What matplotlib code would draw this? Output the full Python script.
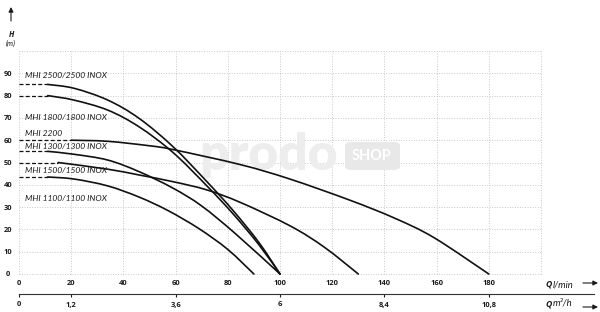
import matplotlib
matplotlib.use('Agg')
import matplotlib.pyplot as plt
import numpy as np
from matplotlib.lines import Line2D
from matplotlib.patches import FancyArrowPatch, FancyBboxPatch, PathPatch
from matplotlib.path import Path

# ---------------- data ----------------
curve_names = ["MHI 2500/2500 INOX", "MHI 1800/1800 INOX", "MHI 2200",
               "MHI 1300/1300 INOX", "MHI 1500/1500 INOX", "MHI 1100/1100 INOX"]

q_2500 = [0, 11, 21, 34, 46, 59, 72, 82, 92, 100]
h_2500 = [85, 85, 83.3, 78, 69.8, 57.1, 41.4, 28.5, 14, 0]

q_1800 = [0, 11, 21, 34, 46, 59, 72, 82, 92, 100]
h_1800 = [80, 80, 78, 73.5, 66, 54.5, 39.5, 27, 13, 0]

q_2200 = [0, 20, 34, 50, 59, 85, 104, 127, 144, 159, 180]
h_2200 = [60, 60, 59.5, 57.5, 55.8, 49, 42.5, 33, 25, 16.3, 0]

q_1300 = [0, 11, 21, 34, 46, 59, 70, 83, 100]
h_1300 = [55, 55, 53.7, 51.1, 45.9, 38.5, 30.5, 18, 0]

q_1500 = [0, 15, 34, 46, 59, 72, 85, 104, 117, 130]
h_1500 = [50, 50, 47, 44.4, 41.4, 37.7, 32, 21.5, 12, 0]

q_1100 = [0, 11, 21, 34, 46, 57, 69, 80, 90]
h_1100 = [43.5, 43.5, 42.6, 39.5, 34.5, 28.5, 20.3, 11, 0]

curves_q = [q_2500, q_1800, q_2200, q_1300, q_1500, q_1100]
curves_h = [h_2500, h_1800, h_2200, h_1300, h_1500, h_1100]

x_ticks = [0, 20, 40, 60, 80, 100, 120, 140, 160, 180, 200]
x_labels = ["0", "20", "40", "60", "80", "100", "120", "140", "160", "180", ""]
y_ticks = [0, 10, 20, 30, 40, 50, 60, 70, 80, 90, 100]
y_labels = ["0", "10", "20", "30", "40", "50", "60", "70", "80", "90", ""]
m3_ticks = [0, 1.2, 3.6, 6, 8.4, 10.8]
m3_labels = ["0", "1,2", "3,6", "6", "8,4", "10,8"]

# label placement (layout)
label_y = [88.8, 70, 63.2, 57, 46.2, 34]
label_x = 2.3

# ---------------- figure ----------------
W, Hh = 600, 312
fig = plt.figure(figsize=(6, 3.12), dpi=100)
fig.patch.set_facecolor('white')

def fx(px):
    return px / W

def fy(py):
    return 1 - py / Hh

ax = fig.add_axes([fx(19), fy(274), (541 - 19) / W, (274 - 51) / Hh])
ax.set_xlim(0, 200)
ax.set_ylim(0, 100)
for s in ax.spines.values():
    s.set_visible(False)

tick_font = dict(family='Open Sans', weight='bold', size=5.4)
ax.set_xticks(x_ticks)
ax.set_xticklabels(x_labels, **tick_font)
ax.set_yticks(y_ticks)
ax.set_yticklabels(y_labels, **tick_font)
ax.tick_params(axis='x', length=0, pad=4.6, colors='#1a1a1a')
ax.tick_params(axis='y', length=0, pad=7.9, colors='#1a1a1a')
for lab in ax.get_yticklabels():
    lab.set_horizontalalignment('center')

ax.grid(True, color='#c8c8c8', linestyle=(0, (1, 1.6)), linewidth=0.7)
ax.set_axisbelow(True)
for gl in ax.get_xgridlines() + ax.get_ygridlines():
    gl.set_clip_on(False)

# watermark
ax.text(fx(199), fy(170), "prodo", transform=fig.transFigure, family='Lato',
        weight='heavy', size=37, color='#ededed', ha='left', va='baseline', zorder=1.5)
box = FancyBboxPatch((fx(345), fy(170)), fx(400) - fx(345), fy(142) - fy(170),
                     boxstyle='round,pad=0,rounding_size=0.012', transform=fig.transFigure,
                     facecolor='#e8e8e8', edgecolor='none', zorder=1.5)
ax.add_artist(box)
ax.text(fx(372), fy(156), "SHOP", transform=fig.transFigure, family='Lato',
        weight='bold', size=10.5, color='white', ha='center', va='center', zorder=1.6)


def smooth_path(qs, hs):
    pts = np.column_stack([qs, hs]).astype(float)
    n = len(pts)
    verts = [pts[0]]
    codes = [Path.MOVETO]
    for i in range(n - 1):
        p0 = pts[i - 1] if i > 0 else pts[i]
        p1 = pts[i]
        p2 = pts[i + 1]
        p3 = pts[i + 2] if i + 2 < n else pts[i + 1]
        c1 = p1 + (p2 - p0) / 6.0
        c2 = p2 - (p3 - p1) / 6.0
        verts += [c1, c2, p2]
        codes += [Path.CURVE4] * 3
    return Path(verts, codes)


# curves
for qs, hs in zip(curves_q, curves_h):
    ax.plot(qs[:2], hs[:2], color='#111111', lw=0.9, linestyle=(0, (3.2, 1.8)),
            zorder=3, clip_on=False)
    patch = PathPatch(smooth_path(qs[1:], hs[1:]), fill=False, edgecolor='#111111',
                      lw=1.2, zorder=3, capstyle='round', joinstyle='round',
                      clip_on=False)
    ax.add_patch(patch)

for name, ly in zip(curve_names, label_y):
    ax.text(label_x, ly, name, family='Lato', style='italic', size=6.1,
            color='#1a1a1a', ha='left', va='center', zorder=4)

# secondary axis (m3/h)
sec = ax.secondary_xaxis(-(294 - 274) / 223,
                         functions=(lambda q: q * 0.06, lambda m: m / 0.06))
sec.set_xticks(m3_ticks)
sec.set_xticklabels(m3_labels, **tick_font)
sec.spines['bottom'].set_visible(False)
sec.tick_params(axis='x', length=2.4, width=0.8, direction='out', pad=3.0,
                colors='#1a1a1a')

fig.add_artist(Line2D([fx(19), fx(594)], [fy(293.6), fy(293.6)],
                      transform=fig.transFigure, color='#333333', lw=0.8))

# axis captions
cap = dict(color='#1a1a1a', ha='left', va='center')
fig.text(fx(545), fy(284.5), "Q", family='Open Sans', weight='bold', style='italic',
         size=6.2, **cap)
fig.text(fx(552.5), fy(284.5), "l/min", family='Lato', style='italic', size=6.8, **cap)
fig.text(fx(545), fy(303.5), "Q", family='Open Sans', weight='bold', style='italic',
         size=6.2, **cap)
fig.text(fx(552.5), fy(303.5), "m³/h", family='Lato', style='italic', size=6.8, **cap)
fig.text(fx(11), fy(34.5), "H", family='Open Sans', weight='bold', style='italic',
         size=5.5, color='#1a1a1a', ha='center', va='center')
fig.text(fx(10.5), fy(43), "(m)", family='Lato', style='italic',
         size=5.5, color='#1a1a1a', ha='center', va='center')

# arrows
for (x0, y0, x1, y1) in [(583, 283, 598, 283), (583, 307, 598, 307), (11, 21, 11, 7)]:
    fig.add_artist(FancyArrowPatch((fx(x0), fy(y0)), (fx(x1), fy(y1)),
                                   transform=fig.transFigure, arrowstyle='-|>',
                                   mutation_scale=7, color='#1a1a1a', lw=0.8,
                                   shrinkA=0, shrinkB=0))

fig.savefig('out.png', dpi=100, facecolor='white')
